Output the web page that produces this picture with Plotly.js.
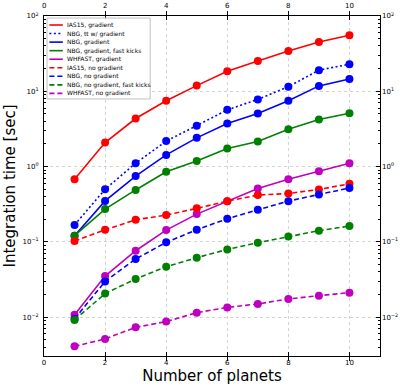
<!DOCTYPE html>
<html>
<head>
<meta charset="utf-8">
<script src="https://cdn.plot.ly/plotly-3.0.1.min.js"></script>
<style>
  html, body { margin: 0; padding: 0; background: #fff; }
  #chart { width: 407px; height: 390px; }
</style>
</head>
<body>
<div id="chart"></div>
<script>
// number of planets on the x axis
const nPlanets = [1, 2, 3, 4, 5, 6, 7, 8, 9, 10];

// integration times in seconds
const ias15Grad     = [0.68, 2.09, 4.35, 7.5, 11.9, 18.5, 25.3, 34.3, 45.2, 55.5];
const nbgTtGrad     = [0.168, 0.50, 1.11, 2.18, 3.5, 5.67, 7.8, 11.5, 19.1, 22.9];
const nbgGrad       = [0.121, 0.35, 0.75, 1.43, 2.41, 3.73, 5.06, 7.5, 11.8, 14.6];
const nbgGradFast   = [0.121, 0.273, 0.49, 0.853, 1.19, 1.74, 2.15, 3.14, 4.22, 5.12];
const whfastGrad    = [0.0108, 0.0352, 0.0764, 0.1436, 0.234, 0.348, 0.513, 0.68, 0.871, 1.11];
const ias15NoGrad   = [0.1026, 0.145, 0.197, 0.227, 0.279, 0.348, 0.419, 0.44, 0.497, 0.591];
const nbgNoGrad     = [0.0095, 0.0299, 0.0593, 0.0987, 0.145, 0.203, 0.267, 0.348, 0.427, 0.519];
const nbgNoGradFast = [0.0092, 0.0206, 0.0322, 0.0469, 0.0617, 0.0796, 0.0976, 0.118, 0.141, 0.1626];
const whfastNoGrad  = [0.00411, 0.00515, 0.00735, 0.00875, 0.0115, 0.0135, 0.0150, 0.0175, 0.0193, 0.0212];

const seriesNames = [
  "IAS15, gradient",
  "NBG, tt w/ gradient",
  "NBG, gradient",
  "NBG, gradient, fast kicks",
  "WHFAST, gradient",
  "IAS15, no gradient",
  "NBG, no gradient",
  "NBG, no gradient, fast kicks",
  "WHFAST, no gradient"
];
const seriesValues = [ias15Grad, nbgTtGrad, nbgGrad, nbgGradFast, whfastGrad,
                      ias15NoGrad, nbgNoGrad, nbgNoGradFast, whfastNoGrad];

// tick labels
const xTickVals = [0, 2, 4, 6, 8, 10];
const xTickText = ["0", "2", "4", "6", "8", "10"];
const yTickVals = [0.01, 0.1, 1, 10, 100];
const yTickText = ["10<sup>\u22122</sup>", "10<sup>\u22121</sup>", "10<sup>0</sup>", "10<sup>1</sup>", "10<sup>2</sup>"];

const red = "#ff0000", blue = "#0000ff", green = "#008000", magenta = "#bf00bf";
const colors = [red, blue, blue, green, magenta, red, blue, green, magenta];
const dashes = ["solid", "2px,2.5px", "solid", "solid", "solid",
                "5px,3px", "5px,3px", "5px,3px", "5px,3px"];

let traces = [];
seriesValues.forEach(function (vals, i) {
  traces.push({
    x: nPlanets,
    y: vals,
    mode: "lines+markers",
    name: seriesNames[i],
    showlegend: false,
    line: { color: colors[i], width: 1.6, dash: dashes[i] },
    marker: { color: colors[i], size: 8 }
  });
});

// empty trace so the right label axis gets drawn
traces.push({ x: [], y: [], xaxis: "x", yaxis: "y2", showlegend: false, hoverinfo: "skip" });

const font = "DejaVu Sans, sans-serif";
const yRange = [-2.515, 2.0];

// hand-built legend (plotly's legend rows are too tall at this size)
let shapes = [{
  type: "rect", xref: "paper", yref: "paper",
  x0: 0.009, x1: 0.316, y0: 0.756, y1: 0.994,
  line: { color: "#c0c0c0", width: 1 }, fillcolor: "rgba(255,255,255,0.9)", layer: "above"
}];
let annotations = [];
seriesNames.forEach(function (name, i) {
  let yp = 1 - (25 + i * 8.55 - 16) / 340;
  shapes.push({
    type: "line", xref: "paper", yref: "paper",
    x0: 0.016, x1: 0.056, y0: yp, y1: yp,
    line: { color: colors[i], width: 1.6, dash: dashes[i] }, layer: "above"
  });
  annotations.push({
    xref: "paper", yref: "paper", x: 0.063, y: yp,
    xanchor: "left", yanchor: "middle", showarrow: false,
    text: name, font: { family: font, size: 6, color: "#000" }
  });
});

// tick labels along the top edge, placed on the x scale
xTickVals.forEach(function (v, i) {
  annotations.push({
    xref: "x", yref: "paper", x: v, y: 1,
    xanchor: "center", yanchor: "bottom", yshift: 4, showarrow: false,
    text: xTickText[i], font: { family: font, size: 7, color: "#000" }
  });
});

const layout = {
  width: 407,
  height: 390,
  margin: { l: 44, r: 27, t: 16, b: 34 },
  paper_bgcolor: "#fff",
  plot_bgcolor: "#fff",
  showlegend: false,
  font: { family: font, color: "#000" },
  xaxis: {
    range: [0, 11],
    tickmode: "array",
    tickvals: xTickVals,
    ticktext: xTickText,
    ticks: "inside",
    ticklen: 4,
    tickcolor: "#000",
    showline: true,
    linecolor: "#000",
    linewidth: 1,
    mirror: "allticks",
    showgrid: true,
    gridcolor: "#c8c8c8",
    griddash: "dot",
    gridwidth: 0.8,
    zeroline: false,
    tickfont: { size: 7 },
    title: { text: "Number of planets", font: { size: 15 }, standoff: 4 }
  },
  yaxis: {
    type: "log",
    range: yRange,
    tickmode: "array",
    tickvals: yTickVals,
    ticktext: yTickText,
    ticks: "inside",
    ticklen: 4,
    tickcolor: "#000",
    minor: { ticks: "inside", ticklen: 2, tickcolor: "#000", dtick: "D1", showgrid: false },
    showline: true,
    linecolor: "#000",
    linewidth: 1,
    mirror: "allticks",
    showgrid: true,
    gridcolor: "#c8c8c8",
    griddash: "dot",
    gridwidth: 0.8,
    zeroline: false,
    tickfont: { size: 7 },
    ticklabelstandoff: 3,
    title: { text: "Integration time [sec]", font: { size: 15 }, standoff: 3 }
  },
  yaxis2: {
    type: "log",
    overlaying: "y",
    anchor: "x",
    side: "right",
    range: yRange,
    tickmode: "array",
    tickvals: yTickVals,
    ticktext: yTickText,
    ticks: "",
    showgrid: false,
    zeroline: false,
    ticklabeloverflow: "allow",
    tickfont: { size: 7, color: "#000" },
    ticklabelstandoff: 1
  },
  shapes: shapes,
  annotations: annotations
};

Plotly.newPlot("chart", traces, layout, { staticPlot: true });
</script>
</body>
</html>
